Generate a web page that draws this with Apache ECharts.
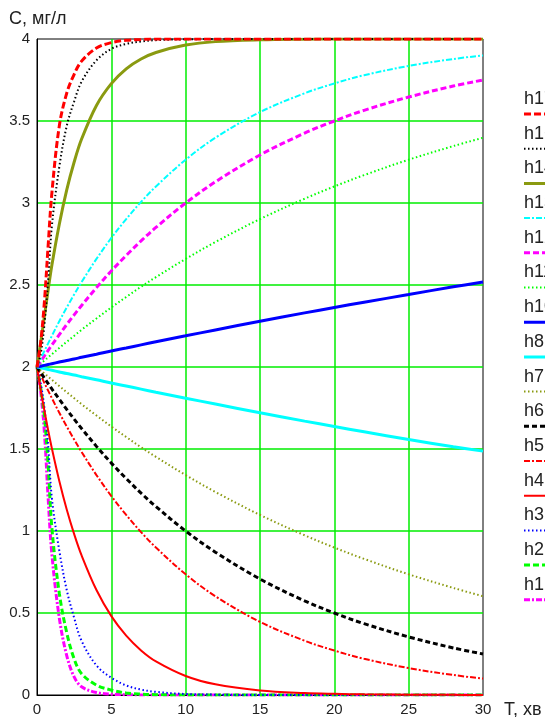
<!DOCTYPE html>
<html><head><meta charset="utf-8">
<script src="https://cdn.jsdelivr.net/npm/echarts@6/dist/echarts.min.js"></script>
<style>html,body{margin:0;padding:0;background:#fff;overflow:hidden}#c{width:545px;height:717px}</style>
</head><body><div id="c"></div>
<script>
// time points (min)
const T   = [0, 0.25, 0.5, 0.75, 1, 1.5, 2, 2.5, 3, 4, 5, 6, 7, 8, 10, 12, 15, 18, 20, 22, 25, 28, 30];
// concentration values (mg/l)
const h17 = [2, 2.15, 2.40, 2.74, 3.06, 3.47, 3.67, 3.785, 3.865, 3.945, 3.978, 3.992, 3.997, 4, 4, 4, 4, 4, 4, 4, 4, 4, 4];
const h16 = [2, 2.08, 2.26, 2.53, 2.86, 3.22, 3.47, 3.62, 3.74, 3.87, 3.94, 3.97, 3.985, 3.993, 3.998, 4, 4, 4, 4, 4, 4, 4, 4];
const h14 = [2, 2.15, 2.31, 2.47, 2.62, 2.87, 3.08, 3.25, 3.39, 3.595, 3.728, 3.818, 3.878, 3.918, 3.963, 3.984, 3.995, 3.999, 4, 4, 4, 4, 4];
const h13 = [2, 2.049, 2.098, 2.144, 2.190, 2.279, 2.363, 2.442, 2.518, 2.659, 2.787, 2.902, 3.007, 3.101, 3.264, 3.398, 3.554, 3.669, 3.729, 3.779, 3.836, 3.878, 3.900];
const h12 = [2, 2.034, 2.068, 2.101, 2.134, 2.197, 2.259, 2.318, 2.375, 2.484, 2.586, 2.680, 2.769, 2.851, 3.000, 3.129, 3.293, 3.426, 3.500, 3.565, 3.646, 3.713, 3.750];
const h11 = [2, 2.020, 2.040, 2.059, 2.078, 2.116, 2.154, 2.190, 2.227, 2.296, 2.363, 2.427, 2.489, 2.548, 2.659, 2.762, 2.902, 3.026, 3.101, 3.170, 3.264, 3.347, 3.398];
const h10 = [2, 2.005, 2.010, 2.015, 2.020, 2.030, 2.040, 2.049, 2.059, 2.078, 2.098, 2.116, 2.135, 2.154, 2.190, 2.226, 2.279, 2.330, 2.363, 2.395, 2.442, 2.489, 2.518];
const h8  = [2, 1.995, 1.990, 1.985, 1.980, 1.970, 1.960, 1.951, 1.941, 1.922, 1.902, 1.884, 1.865, 1.846, 1.810, 1.774, 1.721, 1.670, 1.637, 1.605, 1.558, 1.514, 1.487];
const h7  = [2, 1.980, 1.960, 1.941, 1.922, 1.884, 1.846, 1.810, 1.773, 1.704, 1.637, 1.573, 1.511, 1.452, 1.341, 1.238, 1.098, 0.974, 0.899, 0.830, 0.736, 0.653, 0.602];
const h6  = [2, 1.966, 1.932, 1.899, 1.866, 1.803, 1.741, 1.682, 1.625, 1.516, 1.414, 1.320, 1.231, 1.149, 1.000, 0.871, 0.707, 0.574, 0.500, 0.435, 0.354, 0.287, 0.250];
const h5  = [2, 1.951, 1.902, 1.856, 1.810, 1.721, 1.637, 1.558, 1.482, 1.341, 1.213, 1.098, 0.993, 0.899, 0.736, 0.602, 0.446, 0.331, 0.271, 0.221, 0.164, 0.122, 0.100];
const h4  = [2, 1.860, 1.734, 1.614, 1.504, 1.305, 1.131, 0.981, 0.851, 0.640, 0.481, 0.362, 0.272, 0.205, 0.116, 0.065, 0.028, 0.012, 0.007, 0.004, 0.002, 0.001, 0.0004];
const h3  = [2, 1.90, 1.75, 1.52, 1.20, 0.88, 0.64, 0.47, 0.33, 0.18, 0.105, 0.058, 0.033, 0.019, 0.006, 0.002, 0, 0, 0, 0, 0, 0, 0];
const h2  = [2, 1.87, 1.70, 1.40, 1.02, 0.62, 0.38, 0.22, 0.13, 0.06, 0.03, 0.012, 0.005, 0.002, 0, 0, 0, 0, 0, 0, 0, 0, 0];
const h1  = [2, 1.85, 1.60, 1.20, 0.86, 0.47, 0.24, 0.11, 0.05, 0.015, 0.005, 0.002, 0, 0, 0, 0, 0, 0, 0, 0, 0, 0, 0];

const names = ['h17', 'h16', 'h14', 'h13', 'h12', 'h11', 'h10', 'h8', 'h7', 'h6', 'h5', 'h4', 'h3', 'h2', 'h1'];
const values = [h17, h16, h14, h13, h12, h11, h10, h8, h7, h6, h5, h4, h3, h2, h1];

// styles (kept apart from the data)
const styles = [
  {color: '#ff0000', width: 3, dash: [7, 3]},
  {color: '#000000', width: 2, dash: [1.5, 2.5]},
  {color: '#8a9a10', width: 3, dash: null},
  {color: '#00ffff', width: 2, dash: [6, 2, 2, 2]},
  {color: '#ff00ff', width: 3, dash: [6, 3]},
  {color: '#00ff00', width: 2, dash: [1.5, 2.5]},
  {color: '#0000ff', width: 3, dash: null},
  {color: '#00ffff', width: 3, dash: null},
  {color: '#8a9a10', width: 2, dash: [1.5, 2.5]},
  {color: '#000000', width: 3, dash: [5, 3]},
  {color: '#ff0000', width: 2, dash: [6, 2, 2, 2]},
  {color: '#ff0000', width: 2, dash: null},
  {color: '#0000ff', width: 2, dash: [1.5, 2.5]},
  {color: '#00ff00', width: 3, dash: [6, 3]},
  {color: '#ff00ff', width: 3, dash: [6, 2, 2, 2]}
];

const FONT = '"Liberation Sans", Arial, sans-serif';
const TXT = '#222222';
const GRIDC = '#00ee00';

const chart = echarts.init(document.getElementById('c'), null, {renderer: 'canvas'});

const series = names.map((n, i) => ({
  name: n,
  type: 'line',
  data: T.map((t, j) => [t, values[i][j]]),
  showSymbol: false,
  symbol: 'none',
  smooth: 0.35,
  silent: true,
  z: 3 + (names.length - i),
  lineStyle: {
    color: styles[i].color,
    width: styles[i].width,
    type: styles[i].dash ? styles[i].dash : 'solid',
    cap: 'butt'
  }
}));

// legend (text above a short line sample), built from names/styles
const LEG_X = 524, LEG_Y0 = 114, LEG_STEP = 34.7;
const graphic = [];
names.forEach((n, i) => {
  const y = LEG_Y0 + i * LEG_STEP;
  graphic.push({
    type: 'text', x: LEG_X, y: y - 15, silent: true,
    style: {text: n, fontSize: 18, fontFamily: FONT, fill: TXT, align: 'left', verticalAlign: 'middle'}
  });
  graphic.push({
    type: 'line', silent: true,
    shape: {x1: LEG_X, y1: y, x2: LEG_X + 40, y2: y},
    style: {stroke: styles[i].color, lineWidth: styles[i].width, lineDash: styles[i].dash || null}
  });
});
graphic.push({
  type: 'text', x: 9, y: 19, silent: true,
  style: {text: 'C, мг/л', fontSize: 18, fontFamily: FONT, fill: TXT, align: 'left', verticalAlign: 'middle'}
});
graphic.push({
  type: 'text', x: 504, y: 710, silent: true,
  style: {text: 'T, хв', fontSize: 18, fontFamily: FONT, fill: TXT, align: 'left', verticalAlign: 'middle'}
});

chart.setOption({
  animation: false,
  backgroundColor: '#ffffff',
  grid: {left: 37, right: 62, top: 39, bottom: 17, containLabel: false,
         show: true, borderColor: '#000000', borderWidth: 1, backgroundColor: 'transparent'},
  xAxis: {
    type: 'value', min: 0, max: 30, interval: 5,
    axisLine: {show: true, lineStyle: {color: '#000', width: 1}},
    axisTick: {show: false},
    axisLabel: {fontSize: 15, fontFamily: FONT, color: TXT, margin: 7},
    splitLine: {show: true, showMinLine: false, showMaxLine: false,
                lineStyle: {color: GRIDC, width: 1.5, opacity: 1, type: 'solid'}}
  },
  yAxis: {
    type: 'value', min: 0, max: 4, interval: 0.5,
    axisLine: {show: true, lineStyle: {color: '#000', width: 1}},
    axisTick: {show: false},
    axisLabel: {fontSize: 15, fontFamily: FONT, color: TXT, margin: 7, padding: [3, 0, 0, 0]},
    splitLine: {show: true, showMinLine: false, showMaxLine: false,
                lineStyle: {color: GRIDC, width: 1.5, opacity: 1, type: 'solid'}}
  },
  graphic: graphic,
  series: series
});
</script>
</body></html>
